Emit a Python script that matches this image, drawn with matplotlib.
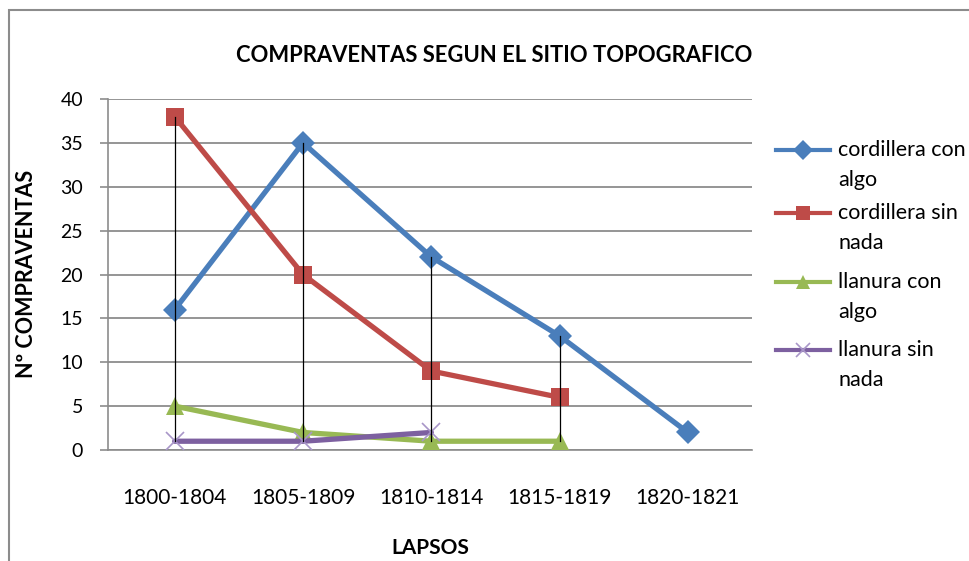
import numpy as np
import matplotlib.pyplot as plt
from matplotlib.lines import Line2D
from matplotlib.patches import Rectangle

plt.rcParams['font.family'] = ['Lato', 'DejaVu Sans']

lapsos = ["1800-1804", "1805-1809", "1810-1814", "1815-1819", "1820-1821"]
cordillera_con_algo = [16, 35, 22, 13, 2]
cordillera_sin_nada = [38, 20, 9, 6, np.nan]
llanura_con_algo = [5, 2, 1, 1, np.nan]
llanura_sin_nada = [1, 1, 2, np.nan, np.nan]

series = [
    (["cordillera con", "algo"], cordillera_con_algo, "#4A7EBB", "D", 12.5, None),
    (["cordillera sin", "nada"], cordillera_sin_nada, "#BE4B48", "s", 12.5, None),
    (["llanura con", "algo"], llanura_con_algo, "#98B954", "^", 13, None),
    (["llanura sin", "nada"], llanura_sin_nada, "#7D60A0", "x", 13, "#A896C8"),
]

fig = plt.figure(figsize=(9.69, 5.61), dpi=100)
ax = fig.add_axes([108/969, 1-450/561, (752-108)/969, (450-99)/561])

x = np.arange(len(lapsos))
for name, vals, col, mk, ms, mcol in series:
    ax.plot(x, vals, color=col, lw=3.8, marker=mk, ms=ms,
            markerfacecolor=mcol or col, markeredgecolor=mcol or col,
            markeredgewidth=1.2 if mk == "x" else 0, zorder=3,
            solid_capstyle="round")

# high-low lines
data = np.array([s[1] for s in series], dtype=float)
lo = np.nanmin(data, axis=0)
hi = np.nanmax(data, axis=0)
for i in range(len(lapsos)):
    if np.sum(~np.isnan(data[:, i])) > 1:
        ax.plot([x[i], x[i]], [lo[i], hi[i]], color="black", lw=0.9, zorder=4)

ax.set_xlim(-0.52, 4.5)
ax.set_ylim(0, 40)
ax.set_yticks(range(0, 41, 5))
ax.set_xticks(x)
ax.set_xticklabels(lapsos)
ax.yaxis.grid(True, color="#8C8C8C", lw=1.3)
ax.set_axisbelow(True)
for s in ["top", "right"]:
    ax.spines[s].set_visible(False)
for s in ["left", "bottom"]:
    ax.spines[s].set_color("#8C8C8C")
    ax.spines[s].set_linewidth(1.2)
ax.tick_params(axis="y", length=6, color="#8C8C8C", width=1.2, labelsize=14, pad=12)
ax.tick_params(axis="x", length=0, labelsize=15, pad=27)

fig.text(494/969, 1-55/561, "COMPRAVENTAS SEGUN EL SITIO TOPOGRAFICO",
         ha="center", va="center", fontsize=15.8, fontweight="bold")
fig.text(27/969, 1-274/561, "Nº COMPRAVENTAS", rotation=90,
         ha="center", va="center", fontsize=15.5, fontweight="bold")
fig.text(430/969, 1-548/561, "LAPSOS", ha="center", va="center",
         fontsize=15, fontweight="bold")

# legend
leg_y = [150, 213, 282, 350]
for (name, vals, col, mk, ms, mcol), yy in zip(series, leg_y):
    yf = 1 - yy/561
    fig.add_artist(Line2D([776/969, 830/969], [yf, yf], color=col, lw=3,
                          transform=fig.transFigure))
    fig.add_artist(Line2D([803/969], [yf], marker=mk, ms=ms*0.8,
                          color=mcol or col, markeredgewidth=1.2 if mk == "x" else 0,
                          transform=fig.transFigure))
    fig.text(838/969, yf, name[0], ha="left", va="center", fontsize=15.5)
    fig.text(838/969, 1 - (yy + 30)/561, name[1], ha="left", va="center", fontsize=15.5)

fig.add_artist(Rectangle((9/969, -0.1), 1.2, 1 - 10/561 + 0.1, fill=False,
                         edgecolor="#8C8C8C", lw=1.5, transform=fig.transFigure))

fig.savefig("out.png", dpi=100)
